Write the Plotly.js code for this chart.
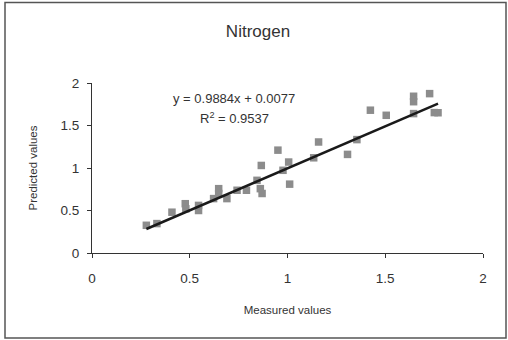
<!DOCTYPE html>
<html>
<head>
<meta charset="utf-8">
<script src="https://cdn.plot.ly/plotly-3.0.1.min.js"></script>
<style>html,body{margin:0;padding:0;background:#fff;}#chart{width:508px;height:340px;}</style>
</head>
<body>
<div id="chart"></div>
<script>
var measured  = [0.278, 0.332, 0.409, 0.477, 0.480, 0.545, 0.545, 0.622, 0.648, 0.648, 0.690, 0.742, 0.790, 0.844, 0.861, 0.870, 0.866, 0.951, 0.977, 1.006, 1.011, 1.134, 1.159, 1.307, 1.355, 1.424, 1.505, 1.645, 1.645, 1.645, 1.727, 1.751, 1.770];
var predicted = [0.326, 0.346, 0.480, 0.580, 0.520, 0.560, 0.500, 0.640, 0.757, 0.700, 0.640, 0.738, 0.738, 0.855, 0.757, 0.700, 1.030, 1.210, 0.973, 1.070, 0.810, 1.120, 1.306, 1.160, 1.334, 1.680, 1.620, 1.844, 1.780, 1.640, 1.875, 1.652, 1.650];
var slope = 0.9884;
var intercept = 0.0077;
var rSquared = 0.9537;
var tickVals = [0, 0.5, 1, 1.5, 2];
var tickText = ['0', '0.5', '1', '1.5', '2'];

var xMin = Math.min.apply(null, measured);
var xMax = Math.max.apply(null, measured);
var fitX = [xMin, xMax];
var fitY = fitX.map(function (v) { return slope * v + intercept; });

var W = 508, H = 340;
var m = {l: 92, r: 25, t: 83, b: 87};
var pw = W - m.l - m.r, ph = H - m.t - m.b;
function px(x) { return (x - m.l) / pw; }
function py(y) { return 1 - (y - m.t) / ph; }

var font = 'Liberation Sans, Arial, sans-serif';
var txt = '#333333';

var data = [
  {x: measured, y: predicted, type: 'scatter', mode: 'markers',
   marker: {symbol: 'square', size: 7.5, color: '#8c8c8c'}, showlegend: false, hoverinfo: 'skip'},
  {x: fitX, y: fitY, type: 'scatter', mode: 'lines',
   line: {color: '#1a1a1a', width: 2.5}, showlegend: false, hoverinfo: 'skip'}
];

var layout = {
  width: W, height: H,
  margin: m,
  paper_bgcolor: '#ffffff', plot_bgcolor: '#ffffff',
  font: {family: font, color: txt, size: 13},
  title: {text: 'Nitrogen', font: {family: font, size: 17, color: txt},
          x: 258 / W, xanchor: 'center', xref: 'container', y: 1 - 31 / H, yanchor: 'middle', yref: 'container'},
  xaxis: {range: [0, 2], tickvals: tickVals, ticktext: tickText, showgrid: false, zeroline: false,
          showline: true, linecolor: '#333', linewidth: 1, ticks: 'outside', ticklen: 4, tickcolor: '#333',
          ticklabelstandoff: 9,
          tickfont: {size: 13.5, color: txt}, fixedrange: true,
          title: {text: 'Measured values', font: {size: 11.5, color: txt}, standoff: 20}},
  yaxis: {range: [0, 2], tickvals: tickVals, ticktext: tickText, showgrid: false, zeroline: false,
          showline: true, linecolor: '#333', linewidth: 1, ticks: 'outside', ticklen: 4, tickcolor: '#333',
          ticklabelstandoff: 5,
          tickfont: {size: 13.5, color: txt}, fixedrange: true,
          title: {text: 'Predicted values', font: {size: 11.5, color: txt}, standoff: 20}},
  annotations: [
    {xref: 'paper', yref: 'paper', x: px(234), y: py(98), xanchor: 'center', yanchor: 'middle',
     text: 'y = ' + slope.toFixed(4) + 'x + ' + intercept.toFixed(4), showarrow: false,
     font: {size: 13, color: txt}},
    {xref: 'paper', yref: 'paper', x: px(234), y: py(118), xanchor: 'center', yanchor: 'middle',
     text: 'R<sup>2</sup> = ' + rSquared.toFixed(4), showarrow: false,
     font: {size: 13, color: txt}}
  ],
  shapes: [
    {type: 'rect', xref: 'paper', yref: 'paper', x0: px(5), x1: px(506), y0: py(338), y1: py(2.5),
     line: {color: '#555', width: 1.5}, fillcolor: 'rgba(0,0,0,0)', layer: 'below'}
  ]
};

Plotly.newPlot('chart', data, layout, {displayModeBar: false, staticPlot: true});
</script>
</body>
</html>
